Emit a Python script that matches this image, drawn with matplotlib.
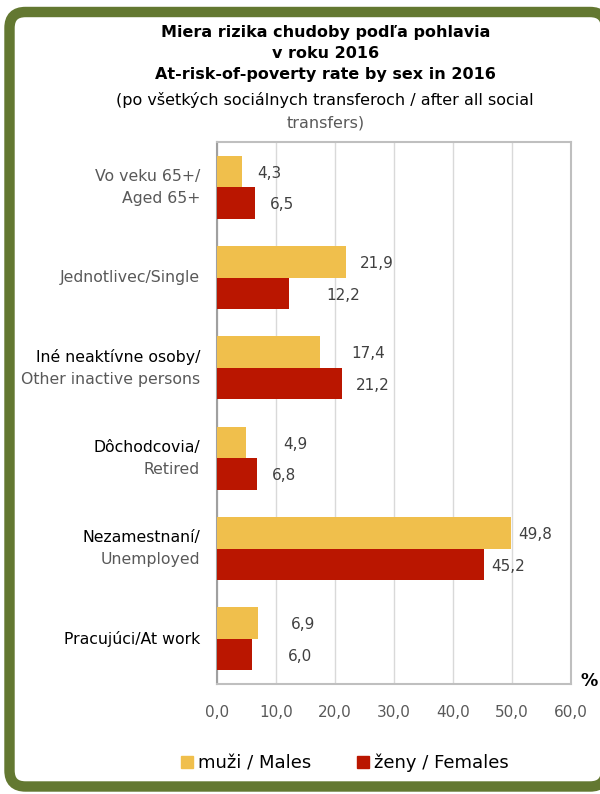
import numpy as np
import matplotlib
matplotlib.use('Agg')
from matplotlib import pyplot as plt
from matplotlib.patches import PathPatch, Patch
from matplotlib.path import Path

# data, top to bottom
cat_line1 = ['Vo veku 65+/', 'Jednotlivec/Single', 'Iné neaktívne osoby/',
             'Dôchodcovia/', 'Nezamestnaní/', 'Pracujúci/At work']
cat_line2 = ['Aged 65+', '', 'Other inactive persons', 'Retired', 'Unemployed', '']
cat_dark = [False, False, True, True, True, True]
males = [4.3, 21.9, 17.4, 4.9, 49.8, 6.9]
females = [6.5, 12.2, 21.2, 6.8, 45.2, 6.0]
xticks = [0, 10, 20, 30, 40, 50, 60]

# label nudges (x units) to mimic the original label placement
dx_m = [2.5, 2.3, 5.3, 6.3, 1.2, 5.6]
dx_f = [2.5, 6.4, 2.4, 2.5, 1.2, 6.0]

yellow = '#F0BF4C'
red = '#BA1600'
grey = '#595959'

fig = plt.figure(figsize=(6, 7.94), dpi=100)

# background axes in pixel units for the green frame (right side is off the page)
bg = fig.add_axes([0, 0, 1, 1], zorder=-1)
bg.set_xlim(0, 600)
bg.set_ylim(0, 794)
bg.axis('off')
L, R, B, T, r = 9.5, 606, 7.5, 782, 16
verts = [(R, T - r), (R, T), (R - r, T), (L + r, T), (L, T), (L, T - r),
	(L, B + r), (L, B), (L + r, B), (R - r, B), (R, B), (R, B + r)]
codes = [Path.MOVETO, Path.CURVE3, Path.CURVE3, Path.LINETO, Path.CURVE3, Path.CURVE3,
	Path.LINETO, Path.CURVE3, Path.CURVE3, Path.LINETO, Path.CURVE3, Path.CURVE3]
bg.add_patch(PathPatch(Path(verts, codes), fill=False, edgecolor='#637831', linewidth=7.5,
	capstyle='butt'))

ax = fig.add_axes([217/600, 1-684/794, 354/600, 542/794])

y = np.arange(len(males))
h = 0.35
ax.barh(y - h/2, males, height=h, color=yellow, zorder=3)
ax.barh(y + h/2, females, height=h, color=red, zorder=3)

def fmt(v):
	return ('%.1f' % v).replace('.', ',')

for i in range(len(males)):
	ax.text(males[i] + dx_m[i], y[i] - h/2 + 0.02, fmt(males[i]), va='center', ha='left',
		fontsize=11, color='#404040')
	ax.text(females[i] + dx_f[i], y[i] + h/2 + 0.02, fmt(females[i]), va='center', ha='left',
		fontsize=11, color='#404040')

# category labels
tr = ax.get_yaxis_transform()
lx = -17/354
for i in range(len(males)):
	c1 = 'black' if cat_dark[i] else grey
	if cat_line2[i]:
		ax.text(lx, y[i] - 0.12, cat_line1[i], transform=tr, ha='right', va='center',
			fontsize=11.3, color=c1)
		ax.text(lx, y[i] + 0.125, cat_line2[i], transform=tr, ha='right', va='center',
			fontsize=11.3, color=grey)
	else:
		ax.text(lx, y[i], cat_line1[i], transform=tr, ha='right', va='center',
			fontsize=11.3, color=c1)

ax.set_xlim(0, 60)
ax.set_ylim(len(males) - 0.5, -0.5)
ax.set_xticks(xticks)
ax.set_xticklabels([fmt(v) for v in xticks], fontsize=11, color=grey)
ax.set_yticks([])
ax.tick_params(axis='x', length=0, pad=15)
ax.grid(axis='x', color='#D9D9D9', lw=1, zorder=0)
for s in ax.spines.values():
	s.set_color('#BFBFBF')
	s.set_linewidth(1.5)
ax.spines['left'].set_color('#A0A0A0')

# titles
cx = 0.542
fig.text(cx, 1-32/794, 'Miera rizika chudoby podľa pohlavia', ha='center', va='center',
	fontsize=11.5, fontweight='bold')
fig.text(cx, 1-53/794, 'v roku 2016', ha='center', va='center', fontsize=11.5, fontweight='bold')
fig.text(cx, 1-75/794, 'At-risk-of-poverty rate by sex in 2016', ha='center', va='center',
	fontsize=11.5, fontweight='bold')
fig.text(cx, 1-100/794, '(po všetkých sociálnych transferoch / after all social', ha='center',
	va='center', fontsize=11.5)
fig.text(cx, 1-123/794, 'transfers)', ha='center', va='center', fontsize=11.5, color=grey)

fig.text(589/600, 1-681/794, '%', ha='center', va='center', fontsize=12.5, fontweight='bold')

handles = [Patch(color=yellow, label='muži / Males'), Patch(color=red, label='ženy / Females')]
fig.legend(handles=handles, loc='center', bbox_to_anchor=(345/600, 1-763/794), ncol=2,
	frameon=False, fontsize=13, handlelength=0.65, handleheight=0.65, handletextpad=0.3,
	columnspacing=2.5)

fig.savefig('out.png', dpi=100)
